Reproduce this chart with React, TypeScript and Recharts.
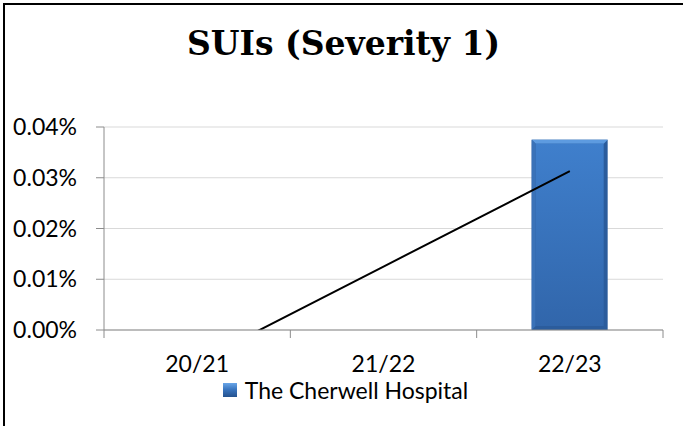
import React from 'react';
import {
  ComposedChart,
  Bar,
  Line,
  XAxis,
  YAxis,
  CartesianGrid,
  Legend,
} from 'recharts';

// values are in percent units (0.0375 means 0.0375%)
const years = ['20/21', '21/22', '22/23'];
const cherwell = [0, 0, 0.0375];
const trend = [-0.0063, 0.0125, 0.0313];
const yTicks = [0, 0.01, 0.02, 0.03, 0.04];

const data = years.map((year, i) => ({
  year,
  cherwell: cherwell[i],
  trend: trend[i],
}));

const WIDTH = 683;
const HEIGHT = 426;
const PLOT_LEFT = 104;
const PLOT_RIGHT = 663;
const BAND = (PLOT_RIGHT - PLOT_LEFT) / years.length;
const FONT = 'Lato, "Open Sans", sans-serif';

const BevelBar = (props: any) => {
  const { x, y, width, height } = props;
  if (!height || height <= 0) return null;
  const b = 4;
  return (
    <g>
      <rect x={x} y={y} width={width} height={height} fill="#2b5c9c" />
      <polygon
        points={`${x},${y} ${x + width},${y} ${x + width - b},${y + b} ${x + b},${y + b}`}
        fill="#5d9be0"
      />
      <polygon
        points={`${x},${y} ${x + b},${y + b} ${x + b},${y + height - b} ${x},${y + height}`}
        fill="#3a72b8"
      />
      <rect
        x={x + b}
        y={y + b}
        width={width - 2 * b}
        height={height - 2 * b}
        fill="url(#barFill)"
      />
    </g>
  );
};

const XTick = (props: any) => {
  const { x, y, payload, index } = props;
  const axisY = y - 8;
  return (
    <g>
      <line x1={x - BAND / 2} y1={axisY} x2={x - BAND / 2} y2={axisY + 8} stroke="#8c8c8c" />
      {index === years.length - 1 && (
        <line x1={x + BAND / 2} y1={axisY} x2={x + BAND / 2} y2={axisY + 8} stroke="#8c8c8c" />
      )}
      <text
        x={x}
        y={axisY + 42}
        textAnchor="middle"
        fontSize={23}
        fontFamily={FONT}
        fill="#000"
      >
        {payload.value}
      </text>
    </g>
  );
};

const LegendContent = () => (
  <div
    style={{
      display: 'flex',
      justifyContent: 'center',
      alignItems: 'center',
      fontFamily: FONT,
      fontSize: 23,
      color: '#000',
      paddingLeft: 28,
    }}
  >
    <span
      style={{
        display: 'inline-block',
        width: 14,
        height: 14,
        background: 'linear-gradient(180deg, #6aa6e8 0%, #3a76c0 45%, #24528e 100%)',
        marginRight: 8,
      }}
    />
    The Cherwell Hospital
  </div>
);

export default function App() {
  return (
    <div
      style={{
        position: 'fixed',
        left: 0,
        top: 0,
        width: WIDTH,
        height: HEIGHT,
        background: '#fff',
        overflow: 'hidden',
      }}
    >
      <div
        style={{
          position: 'absolute',
          left: 3,
          top: 3,
          width: WIDTH + 10,
          height: HEIGHT + 10,
          borderLeft: '2px solid #000',
          borderTop: '2px solid #000',
          boxSizing: 'border-box',
        }}
      />
      <div
        style={{
          position: 'absolute',
          left: 0,
          top: 24,
          width: WIDTH + 4,
          textAlign: 'center',
          fontFamily: '"DejaVu Serif", serif',
          fontWeight: 'bold',
          fontSize: 33,
          lineHeight: '40px',
          color: '#000',
        }}
      >
        SUIs (Severity 1)
      </div>
      <div style={{ position: 'absolute', left: 0, top: 0 }}>
        <ComposedChart
          width={WIDTH}
          height={HEIGHT}
          data={data}
          margin={{ top: 127, right: WIDTH - PLOT_RIGHT, bottom: 36, left: 0 }}
        >
          <defs>
            <linearGradient id="barFill" x1="0" y1="0" x2="0" y2="1">
              <stop offset="0%" stopColor="#3f7fcc" />
              <stop offset="100%" stopColor="#3166ab" />
            </linearGradient>
          </defs>
          <CartesianGrid vertical={false} stroke="#d9d9d9" />
          <XAxis
            dataKey="year"
            height={30}
            stroke="#8c8c8c"
            tickLine={false}
            tickSize={8}
            tickMargin={0}
            tick={<XTick />}
            interval={0}
          />
          <YAxis
            width={PLOT_LEFT}
            domain={[0, 0.04]}
            ticks={yTicks}
            allowDataOverflow
            stroke="#8c8c8c"
            tickSize={8}
            tickMargin={19}
            tickFormatter={(v: number) => `${v.toFixed(2)}%`}
            tick={{ fill: '#000', fontSize: 23, fontFamily: FONT }}
          />
          <Legend
            verticalAlign="bottom"
            height={30}
            content={<LegendContent />}
            wrapperStyle={{ bottom: 20 }}
          />
          <Bar
            dataKey="cherwell"
            name="The Cherwell Hospital"
            barSize={76}
            shape={<BevelBar />}
            isAnimationActive={false}
          />
          <Line
            dataKey="trend"
            type="linear"
            stroke="#000"
            strokeWidth={2}
            dot={false}
            activeDot={false}
            legendType="none"
            isAnimationActive={false}
          />
        </ComposedChart>
      </div>
    </div>
  );
}
